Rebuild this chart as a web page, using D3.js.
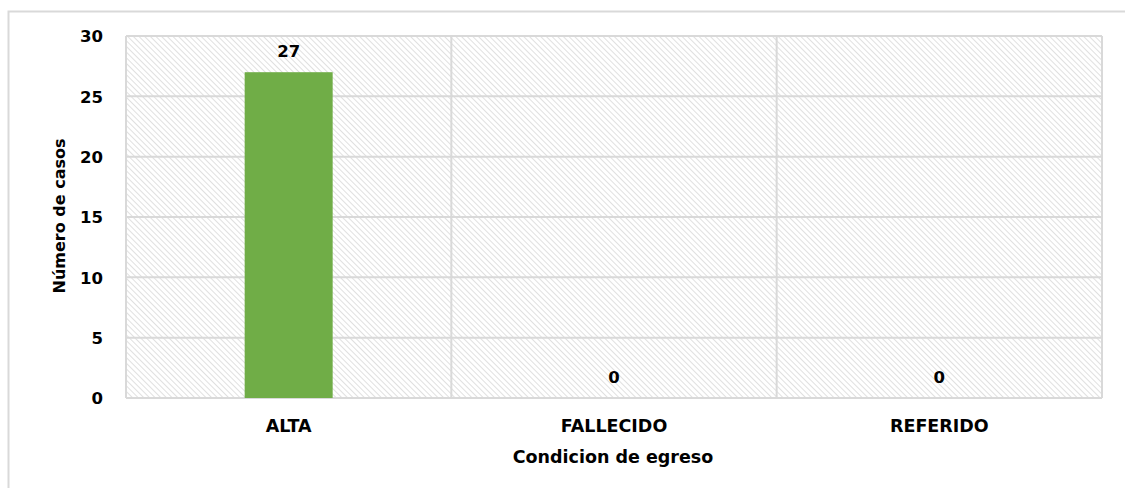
<!DOCTYPE html>
<html><head><meta charset="utf-8">
<script src="https://cdn.jsdelivr.net/npm/d3@7"></script>
<style>
html,body{margin:0;padding:0;background:#fff;}
text{font-family:"DejaVu Sans",sans-serif;fill:#000;}
</style></head>
<body><svg id="c" width="1125" height="488"></svg>
<script>
const categories = ["ALTA", "FALLECIDO", "REFERIDO"];
const values = [27, 0, 0];
const yTicks = [0, 5, 10, 15, 20, 25, 30];
const xTitle = "Condicion de egreso";
const yTitle = "Número de casos";

const FONT = "'DejaVu Sans',sans-serif";
const svg = d3.select("#c");
const m = {left:126, right:1102, top:36, bottom:398};

// outer chart border
svg.append("rect").attr("x",8.5).attr("y",11.5).attr("width",1130).attr("height",500)
  .attr("fill","#fff").attr("stroke","#d9d9d9").attr("stroke-width",2);

const defs = svg.append("defs");
const pat = defs.append("pattern").attr("id","hatch").attr("patternUnits","userSpaceOnUse")
  .attr("width",4).attr("height",4).attr("patternTransform","rotate(-45)");
pat.append("rect").attr("width",4).attr("height",4).attr("fill","#fff");
pat.append("line").attr("x1",0).attr("y1",0).attr("x2",0).attr("y2",4)
  .attr("stroke","#d6d6d6").attr("stroke-width",1.5);

const x = d3.scaleBand().domain(categories).range([m.left,m.right]).paddingInner(0).paddingOuter(0);
const y = d3.scaleLinear().domain([0,30]).range([m.bottom,m.top]);

svg.append("rect").attr("x",m.left).attr("y",m.top).attr("width",m.right-m.left).attr("height",m.bottom-m.top)
  .attr("fill","url(#hatch)");

// gridlines
svg.append("g").selectAll("line").data(yTicks).join("line")
  .attr("x1",m.left).attr("x2",m.right).attr("y1",d=>y(d)).attr("y2",d=>y(d))
  .attr("stroke","#d9d9d9").attr("stroke-width",2);
// vertical separators
const seps = categories.map(c=>x(c)).concat([m.right]);
svg.append("g").selectAll("line").data(seps).join("line")
  .attr("x1",d=>d).attr("x2",d=>d).attr("y1",m.top).attr("y2",m.bottom)
  .attr("stroke","#d9d9d9").attr("stroke-width",2);

// bars
const bw = 88;
svg.append("g").selectAll("rect").data(values).join("rect")
  .attr("x",(d,i)=>x(categories[i])+x.bandwidth()/2-bw/2).attr("width",bw)
  .attr("y",d=>y(d)).attr("height",d=>y(0)-y(d)).attr("fill","#70ad47");

// labels
svg.append("g").selectAll("text").data(values).join("text")
  .attr("x",(d,i)=>x(categories[i])+x.bandwidth()/2).attr("y",d=>y(d)-15)
  .attr("text-anchor","middle").attr("font-size",16.5).attr("font-weight","bold").text(d=>d);

// y axis
const ya = svg.append("g").attr("transform",`translate(${m.left},0)`)
  .call(d3.axisLeft(y).tickValues(yTicks).tickSize(0).tickPadding(23));
ya.select(".domain").remove();
ya.selectAll("text").attr("font-size",16.5).attr("font-weight","bold").attr("dy","0.36em")
  .style("font-family",FONT).attr("fill","#000");

// x axis
const xa = svg.append("g").attr("transform",`translate(0,${m.bottom})`)
  .call(d3.axisBottom(x).tickSize(0).tickPadding(0));
xa.select(".domain").remove();
xa.selectAll("text").attr("font-size",17.5).attr("font-weight","bold").attr("dy",0).attr("y",34)
  .style("font-family",FONT).attr("fill","#000");

svg.append("text").attr("x",613).attr("y",463).attr("text-anchor","middle")
  .attr("font-size",17.5).attr("font-weight","bold").text(xTitle);
svg.append("text").attr("transform","translate(65,216) rotate(-90)").attr("text-anchor","middle")
  .attr("font-size",16).attr("font-weight","bold").text(yTitle);
</script></body></html>
